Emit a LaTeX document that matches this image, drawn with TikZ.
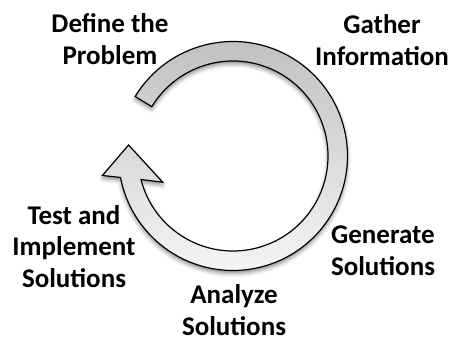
\documentclass[tikz,border=0pt]{standalone}
\usepackage{fontspec}
\setmainfont{Carlito}
\usetikzlibrary{shadows.blur}

\definecolor{bandtop}{HTML}{BDBDBD}
\definecolor{bandmid}{HTML}{D6D6D6}
\definecolor{bandbot}{HTML}{F8F8F8}

\tikzset{
  cyclearrow/.style={
    draw=black, line width=1.2pt, line join=miter,
    top color=bandtop, middle color=bandmid, bottom color=bandbot,
    blur shadow={shadow xshift=0pt, shadow yshift=-3pt,
                 shadow blur radius=4pt, shadow opacity=45}
  },
  % base anchor sits on the baseline of the last line
  steplabel/.style={
    anchor=base, align=center, inner sep=0pt, text=black,
    font=\bfseries\fontsize{27}{31.5}\selectfont
  }
}

\begin{document}
\begin{tikzpicture}[x=1pt,y=1pt]
  \useasboundingbox (-233pt,-185pt) rectangle (220pt,156pt);

  % circular arrow running clockwise around the origin
  \path[cyclearrow]
    (148.7:114.5pt) arc[start angle=148.7, end angle=-169.2, radius=114.5pt]
    -- (188.5:132pt) -- (174:105pt) -- (200.5:75pt) -- (194.3:95pt)
    arc[start angle=-165.7, end angle=148.7, radius=95pt] -- cycle;

  % stage labels
  \node[steplabel] (define)   at (-123pt, 92pt)   {Define the\\Problem};
  \node[steplabel] (gather)   at (149pt, 91pt)    {Gather\\Information};
  \node[steplabel] (generate) at (150pt, -119pt)  {Generate\\Solutions};
  \node[steplabel] (analyze)  at (1pt, -179pt)    {Analyze\\Solutions};
  \node[steplabel] (test)     at (-159pt, -131pt) {Test and\\Implement\\Solutions};
\end{tikzpicture}
\end{document}
